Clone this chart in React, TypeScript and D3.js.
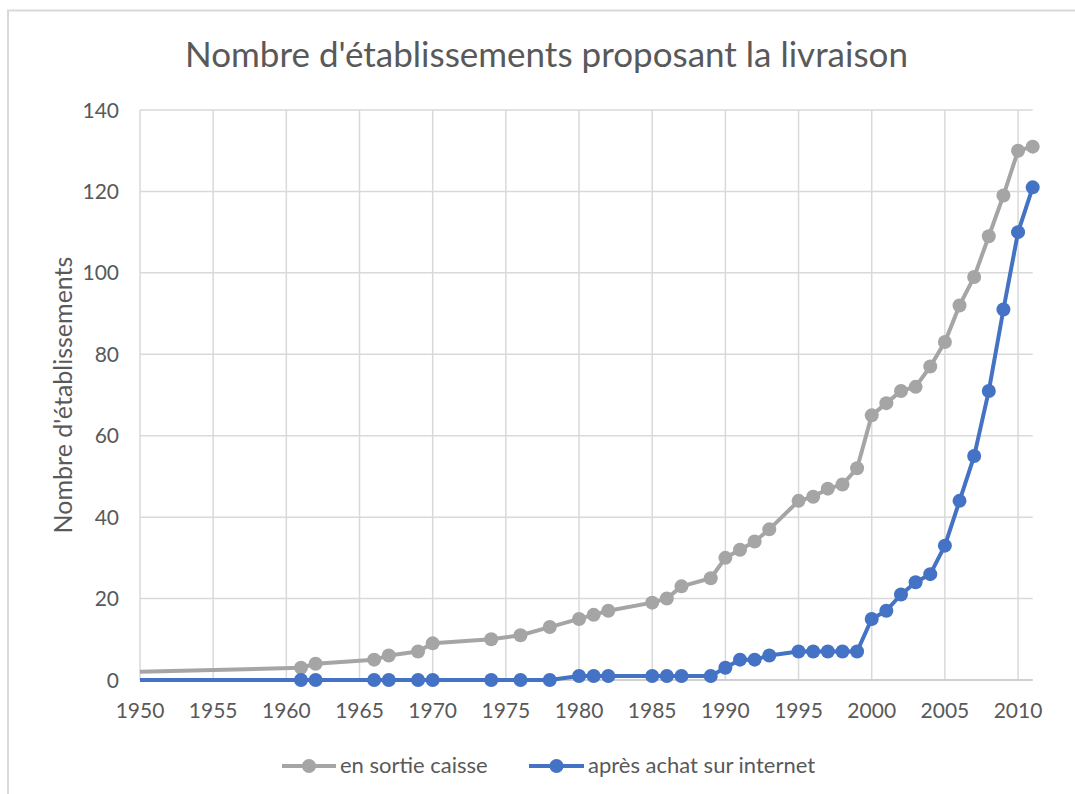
import React from "react";
import * as d3 from "d3";

const years = [1950, 1961, 1962, 1966, 1967, 1969, 1970, 1974, 1976, 1978, 1980, 1981, 1982, 1985, 1986, 1987, 1989, 1990, 1991, 1992, 1993, 1995, 1996, 1997, 1998, 1999, 2000, 2001, 2002, 2003, 2004, 2005, 2006, 2007, 2008, 2009, 2010, 2011];
const sortieCaisse = [2, 3, 4, 5, 6, 7, 9, 10, 11, 13, 15, 16, 17, 19, 20, 23, 25, 30, 32, 34, 37, 44, 45, 47, 48, 52, 65, 68, 71, 72, 77, 83, 92, 99, 109, 119, 130, 131];
const achatInternet = [0, 0, 0, 0, 0, 0, 0, 0, 0, 0, 1, 1, 1, 1, 1, 1, 1, 3, 5, 5, 6, 7, 7, 7, 7, 7, 15, 17, 21, 24, 26, 33, 44, 55, 71, 91, 110, 121];
const xTicks = [1950, 1955, 1960, 1965, 1970, 1975, 1980, 1985, 1990, 1995, 2000, 2005, 2010];
const yTicks = [0, 20, 40, 60, 80, 100, 120, 140];
const seriesNames = ["en sortie caisse", "après achat sur internet"];
const title = "Nombre d'établissements proposant la livraison";
const yTitle = "Nombre d'établissements";

const GREY = "#A5A5A5";
const BLUE = "#4472C4";
const TEXT = "#595959";
const GRID = "#D9D9D9";
const FONT = "Lato, 'Open Sans', sans-serif";

export default function App() {
  const W = 1075, H = 794;
  const left = 140, right = 1032.7, top = 110, bottom = 680;
  const x = d3.scaleLinear().domain([1950, 2011]).range([left, right]);
  const y = d3.scaleLinear().domain([0, 140]).range([bottom, top]);
  const line = d3.line<number>().x((_, i) => x(years[i])).y((d) => y(d));

  const series = [
    { name: seriesNames[0], values: sortieCaisse, color: GREY },
    { name: seriesNames[1], values: achatInternet, color: BLUE },
  ];

  const legend = [
    { x0: 282, x1: 336, tx: 340 },
    { x0: 529, x1: 584, tx: 588 },
  ];
  const ly = 766;

  return (
    <svg width={W} height={H} style={{ position: "absolute", left: 0, top: 0, background: "#fff" }} fontFamily={FONT}>
      <rect x={0} y={0} width={W} height={H} fill="#fff" />
      <rect x={8} y={10.5} width={1200} height={900} fill="none" stroke={GRID} strokeWidth={2} />
      <text x={546.5} y={67} textAnchor="middle" fontSize={35} fill={TEXT}>{title}</text>
      {yTicks.map((t) => (
        <line key={"hy" + t} x1={left} x2={right} y1={y(t)} y2={y(t)} stroke={GRID} strokeWidth={1.5} />
      ))}
      {xTicks.map((t) => (
        <line key={"vx" + t} x1={x(t)} x2={x(t)} y1={top} y2={bottom} stroke={GRID} strokeWidth={1.5} />
      ))}
      <line x1={left} x2={right} y1={bottom} y2={bottom} stroke="#C8C8C8" strokeWidth={1.5} />
      {yTicks.map((t) => (
        <text key={"ty" + t} x={119} y={y(t) + 7.5} textAnchor="end" fontSize={21} fill={TEXT}>{t}</text>
      ))}
      {xTicks.map((t) => (
        <text key={"tx" + t} x={x(t)} y={718} textAnchor="middle" fontSize={21} fill={TEXT}>{t}</text>
      ))}
      <text transform={`translate(72,395) rotate(-90)`} textAnchor="middle" fontSize={25} fill={TEXT}>{yTitle}</text>
      {series.map((s) => (
        <g key={s.name}>
          <path d={line(s.values) || ""} fill="none" stroke={s.color} strokeWidth={4} strokeLinejoin="round" />
          {s.values.map((v, i) =>
            i === 0 ? null : <circle key={i} cx={x(years[i])} cy={y(v)} r={7} fill={s.color} />
          )}
        </g>
      ))}
      {series.map((s, i) => (
        <g key={"lg" + i}>
          <line x1={legend[i].x0} x2={legend[i].x1} y1={ly} y2={ly} stroke={s.color} strokeWidth={4} />
          <circle cx={(legend[i].x0 + legend[i].x1) / 2} cy={ly} r={7} fill={s.color} />
          <text x={legend[i].tx} y={773} fontSize={22} fill={TEXT}>{s.name}</text>
        </g>
      ))}
    </svg>
  );
}
